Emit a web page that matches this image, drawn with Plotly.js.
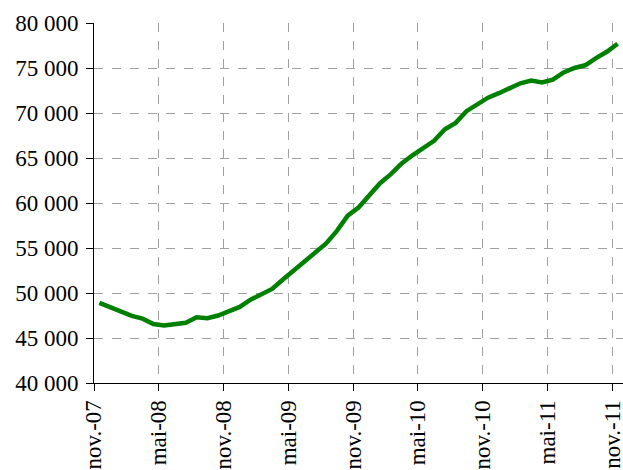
<!DOCTYPE html>
<html>
<head>
<meta charset="utf-8">
<script src="https://cdn.plot.ly/plotly-3.0.1.min.js"></script>
<style>html,body{margin:0;padding:0;background:#fff;}#chart{width:623px;height:470px;}</style>
</head>
<body>
<div id="chart"></div>
<script>
// Monthly values, nov-07 .. nov-11
const months = ["nov.-07","déc.-07","janv.-08","févr.-08","mars-08","avr.-08","mai-08","juin-08","juil.-08","août-08","sept.-08","oct.-08",
  "nov.-08","déc.-08","janv.-09","févr.-09","mars-09","avr.-09","mai-09","juin-09","juil.-09","août-09","sept.-09","oct.-09",
  "nov.-09","déc.-09","janv.-10","févr.-10","mars-10","avr.-10","mai-10","juin-10","juil.-10","août-10","sept.-10","oct.-10",
  "nov.-10","déc.-10","janv.-11","févr.-11","mars-11","avr.-11","mai-11","juin-11","juil.-11","août-11","sept.-11","oct.-11","nov.-11"];
const values = [48900,48400,47900,47450,47150,46550,46400,46550,46700,47300,47200,47500,
  47950,48450,49250,49850,50450,51500,52500,53500,54600,55500,56900,58600,
  59500,60800,62200,63200,64400,65300,66100,66900,68200,68900,70200,71000,
  71700,72200,72700,73300,73600,73400,73700,74500,75000,75300,76100,76800,77700];
const tickLabels = ["nov.-07","mai-08","nov.-08","mai-09","nov.-09","mai-10","nov.-10","mai-11","nov.-11"];
const yTicks = [40000,45000,50000,55000,60000,65000,70000,75000,80000];

const xIdx = months.map((m,i)=>i);
const tickPos = tickLabels.map((t,k)=>k*6-0.5);
const yText = yTicks.map(v=>String(v).replace(/\B(?=(\d{3})+(?!\d))/g,' '));

const font = {family:'Liberation Serif, Times New Roman, serif', size:23, color:'#000'};

Plotly.newPlot('chart',[{
  x:xIdx, y:values, type:'scatter', mode:'lines',
  line:{color:'#008000', width:4.5}, hoverinfo:'skip'
}],{
  width:623, height:470,
  margin:{l:94,r:0,t:23,b:87,pad:0},
  paper_bgcolor:'#fff', plot_bgcolor:'#fff',
  showlegend:false,
  font:font,
  xaxis:{
    range:[-0.5,48.5], tickmode:'array', tickvals:tickPos, ticktext:tickLabels,
    tickangle:-90, ticks:'outside', ticklen:7, tickcolor:'#000', tickwidth:1,
    ticklabeloverflow:'allow',
    showline:true, linecolor:'#000', linewidth:1,
    showgrid:true, gridcolor:'#a0a0a0', griddash:'dash', gridwidth:1,
    zeroline:false, tickfont:font
  },
  yaxis:{
    range:[40000,80000], tickmode:'array', tickvals:yTicks, ticktext:yText,
    ticks:'outside', ticklen:7, tickcolor:'#000', tickwidth:1,
    ticklabeloverflow:'allow', ticklabelstandoff:3,
    showline:true, linecolor:'#000', linewidth:1,
    showgrid:true, gridcolor:'#a0a0a0', griddash:'dash', gridwidth:1,
    zeroline:false, tickfont:font
  }
},{displayModeBar:false, staticPlot:true});
</script>
</body>
</html>
